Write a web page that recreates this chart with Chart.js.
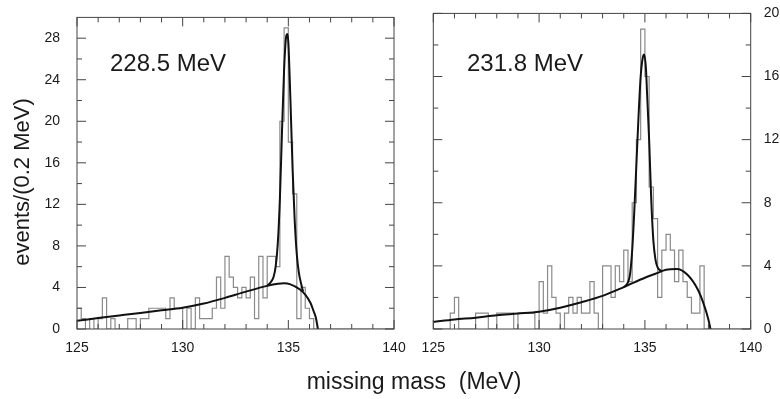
<!DOCTYPE html>
<html>
<head>
<meta charset="utf-8">
<script src="https://cdn.jsdelivr.net/npm/chart.js@4.4.1/dist/chart.umd.min.js"></script>
<style>
  html, body { margin: 0; padding: 0; background: #fff; }
  #wrap { position: relative; width: 780px; height: 399px; }
  #wrap canvas { position: absolute; left: 0; top: 0; }
</style>
</head>
<body>
<div id="wrap">
  <canvas id="left" width="780" height="399"></canvas>
  <canvas id="right" width="780" height="399"></canvas>
</div>
<script>
// histogram bins: 0.2 MeV wide, 125 .. 140 MeV
const binStart = 125;
const binWidth = 0.2;
const binEnd = 140;

// events per bin, 228.5 MeV beam
const countsLeft = [
  2, 1, 0, 1, 0, 1, 3, 0, 1, 0,
  0, 0, 1, 1, 0, 1, 1, 2, 2, 2,
  2, 1, 3, 2, 2, 0, 2, 0, 3, 1,
  1, 1, 2, 5, 2, 7, 5, 4, 3, 4,
  3, 5, 1, 7, 3, 7, 7, 6, 20, 29,
  18, 13, 1, 4, 2, 1, 0, 0, 0, 0,
  0, 0, 0, 0, 0, 0, 0, 0, 0, 0,
  0, 0, 0, 0, 0
];

// events per bin, 231.8 MeV beam
const countsRight = [
  0, 0, 0, 0, 1, 2, 0, 0, 0, 0,
  1, 1, 1, 0, 0, 1, 1, 1, 1, 0,
  1, 1, 1, 1, 0, 3, 1, 4, 2, 1,
  0, 1, 2, 1, 2, 1, 1, 3, 1, 0,
  4, 4, 2, 4, 3, 5, 3, 8, 12, 19,
  16, 9, 7, 2, 5, 6, 5, 3, 5, 3,
  2, 1, 1, 4, 0, 0, 0, 0, 0, 0,
  0, 0, 0, 0, 0
];

// fitted curves: [MeV, events]
const bgLeft = [
  [125, 0.8], [126, 1.05], [127, 1.3], [128, 1.55], [129, 1.8], [130, 2.05],
  [131, 2.45], [132, 3.0], [133, 3.6], [134, 4.15], [134.5, 4.35], [134.8, 4.4],
  [135.1, 4.3], [135.55, 3.8], [135.8, 3.3], [136.05, 2.5], [136.2, 1.7],
  [136.3, 1.1], [136.4, 0]
];
const totalLeft = [
  [134.0, 4.15], [134.2, 4.6], [134.3, 5.0], [134.4, 6.0], [134.5, 8.2],
  [134.6, 12.5], [134.7, 19], [134.8, 25], [134.9, 28.2], [134.95, 28.4],
  [135.0, 27.6], [135.1, 22], [135.2, 15.5], [135.3, 10.5], [135.4, 7.2],
  [135.5, 5.4], [135.6, 4.4], [135.7, 3.6]
];
const bgRight = [
  [125, 0.45], [126, 0.6], [127, 0.72], [128, 0.87], [129, 0.98], [130, 1.1],
  [131, 1.35], [132, 1.7], [133, 2.1], [134, 2.65], [135, 3.25], [135.5, 3.5],
  [136, 3.75], [136.5, 3.8], [137, 3.45], [137.5, 2.5], [137.8, 1.5],
  [138.0, 0.6], [138.1, 0]
];
const totalRight = [
  [134.0, 2.65], [134.2, 2.95], [134.3, 3.5], [134.4, 5], [134.5, 7.5],
  [134.6, 10.5], [134.7, 13.5], [134.8, 16], [134.9, 17.2], [134.97, 17.4],
  [135.05, 16.5], [135.1, 15], [135.2, 12], [135.3, 8.2], [135.4, 5.6],
  [135.5, 4.4], [135.6, 3.9], [135.8, 3.65]
];

// tick labels and tick marks
const xLabels = [125, 130, 135, 140];
const xMinor = [126, 127, 128, 129, 131, 132, 133, 134, 136, 137, 138, 139];
const yLabelsLeft = [0, 4, 8, 12, 16, 20, 24, 28];
const yMinorLeft = [2, 6, 10, 14, 18, 22, 26];
const yLabelsRight = [0, 4, 8, 12, 16, 20];
const yMinorRight = [2, 6, 10, 14, 18];

const FONT = "'Liberation Sans', Arial, Helvetica, sans-serif";
const INK = '#1a1a1a';

// one point per bin start, held until the next edge
function histPoints(counts) {
  const pts = counts.map((c, i) => ({ x: binStart + i * binWidth, y: c }));
  pts.push({ x: binEnd, y: counts[counts.length - 1] });
  return pts;
}

function curve(pairs) {
  return pairs.map(p => ({ x: p[0], y: p[1] }));
}

// frame + inward ticks on all four sides, plus free text
const framePlugin = {
  id: 'frame',
  afterDraw(chart) {
    const o = chart.options.plugins.frame;
    const { ctx, chartArea: a, scales } = chart;
    const x = scales.x, y = scales.y;
    ctx.save();
    ctx.strokeStyle = '#444';
    ctx.lineWidth = 1;
    ctx.strokeRect(a.left, a.top, a.right - a.left, a.bottom - a.top);
    ctx.beginPath();
    const xt = (vals, len) => vals.forEach(v => {
      const px = x.getPixelForValue(v);
      ctx.moveTo(px, a.bottom); ctx.lineTo(px, a.bottom - len);
      ctx.moveTo(px, a.top); ctx.lineTo(px, a.top + len);
    });
    const yt = (vals, len) => vals.forEach(v => {
      const py = y.getPixelForValue(v);
      ctx.moveTo(a.left, py); ctx.lineTo(a.left + len, py);
      ctx.moveTo(a.right, py); ctx.lineTo(a.right - len, py);
    });
    xt(xLabels, 9);
    xt(xMinor, 5);
    yt(o.yMajor, 9);
    yt(o.yMinor, 5);
    ctx.stroke();

    ctx.fillStyle = INK;
    (o.texts || []).forEach(t => {
      ctx.save();
      ctx.font = t.font;
      ctx.textAlign = t.align || 'left';
      ctx.textBaseline = t.baseline || 'alphabetic';
      ctx.translate(t.x, t.y);
      if (t.rotate) ctx.rotate(t.rotate);
      ctx.fillText(t.text, 0, 0);
      ctx.restore();
    });
    ctx.restore();
  }
};

function makeChart(id, cfg) {
  return new Chart(document.getElementById(id), {
    type: 'line',
    data: {
      datasets: [
        {
          data: curve(cfg.total),
          borderColor: '#111',
          borderWidth: 2,
          pointRadius: 0,
          cubicInterpolationMode: 'monotone',
          order: 1
        },
        {
          data: curve(cfg.bg),
          borderColor: '#111',
          borderWidth: 2,
          pointRadius: 0,
          cubicInterpolationMode: 'monotone',
          order: 2
        },
        {
          data: histPoints(cfg.counts),
          borderColor: '#8a8a8a',
          borderWidth: 1.2,
          pointRadius: 0,
          stepped: 'before',
          order: 3
        }
      ]
    },
    options: {
      responsive: false,
      animation: false,
      events: [],
      layout: { padding: cfg.padding },
      plugins: {
        legend: { display: false },
        tooltip: { enabled: false },
        frame: { yMajor: cfg.yLabels, yMinor: cfg.yMinor, texts: cfg.texts }
      },
      scales: {
        x: {
          type: 'linear',
          min: binStart,
          max: binEnd,
          grid: { display: false },
          border: { display: false },
          ticks: {
            color: INK,
            font: { family: FONT, size: 14 },
            padding: 3,
            maxRotation: 0,
            autoSkip: false
          },
          afterBuildTicks: s => { s.ticks = xLabels.map(v => ({ value: v })); },
          afterFit: s => { s.height = 70; }
        },
        y: {
          type: 'linear',
          position: cfg.yPosition,
          min: 0,
          max: cfg.yMax,
          grid: { display: false },
          border: { display: false },
          ticks: {
            color: INK,
            font: { family: FONT, size: 14 },
            padding: cfg.yPad
          },
          afterBuildTicks: s => { s.ticks = cfg.yLabels.map(v => ({ value: v })); },
          afterFit: s => { s.width = cfg.yWidth; }
        }
      }
    },
    plugins: [framePlugin]
  });
}

makeChart('left', {
  counts: countsLeft,
  bg: bgLeft,
  total: totalLeft,
  yMax: 30,
  yLabels: yLabelsLeft,
  yMinor: yMinorLeft,
  yPosition: 'left',
  yWidth: 77,
  yPad: 9,
  padding: { left: 0, right: 386, top: 11, bottom: 0 },
  texts: [
    { text: '228.5 MeV', x: 110, y: 71, font: '24px ' + FONT },
    { text: 'events/(0.2 MeV)', x: 23, y: 182, font: '22px ' + FONT,
      align: 'center', baseline: 'middle', rotate: -Math.PI / 2 },
    { text: 'missing mass  (MeV)', x: 414, y: 389, font: '23px ' + FONT, align: 'center' }
  ]
});

makeChart('right', {
  counts: countsRight,
  bg: bgRight,
  total: totalRight,
  yMax: 20,
  yLabels: yLabelsRight,
  yMinor: yMinorRight,
  yPosition: 'right',
  yWidth: 29.3,
  yPad: 5,
  padding: { left: 433.3, right: 0, top: 11, bottom: 0 },
  texts: [
    { text: '231.8 MeV', x: 467, y: 71, font: '24px ' + FONT }
  ]
});
</script>
</body>
</html>
